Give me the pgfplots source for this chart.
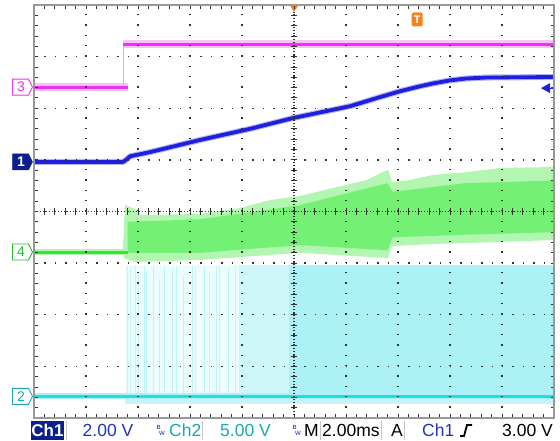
\documentclass[border=0pt]{standalone}
\usepackage{pgfplots}
\pgfplotsset{compat=1.18}
\usepackage{fontspec}
\setmainfont{Liberation Sans}
\definecolor{chA}{HTML}{1F1FE0}
\definecolor{chAl}{HTML}{B4B4F6}
\definecolor{chB}{HTML}{22DCE8}
\definecolor{chBl}{HTML}{ACF1F5}
\definecolor{chC}{HTML}{EE33EE}
\definecolor{chCl}{HTML}{F7A6F7}
\definecolor{chD}{HTML}{33E633}
\definecolor{chDl}{HTML}{B2F6B2}
\definecolor{chDm}{HTML}{74F074}
\definecolor{navy}{HTML}{0C1F8C}
\definecolor{sblue}{HTML}{2233BB}
\definecolor{tealc}{HTML}{1AA8B0}
\definecolor{trig}{HTML}{F5821F}
\newcommand\chmark[2]{%
  \draw[#2] ([xshift=-1.5pt]axis cs:-5,#1) -- ([xshift=-5.5pt,yshift=8pt]axis cs:-5,#1)
   -- ([xshift=-21.5pt,yshift=8pt]axis cs:-5,#1) -- ([xshift=-21.5pt,yshift=-8pt]axis cs:-5,#1)
   -- ([xshift=-5.5pt,yshift=-8pt]axis cs:-5,#1) -- cycle;}
\begin{document}
\begin{tikzpicture}
\path[use as bounding box] (0pt,0pt) rectangle (560pt,441pt);
\begin{axis}[
  at={(34pt,23pt)}, anchor=south west,
  scale only axis, width=520pt, height=413pt,
  xmin=-5, xmax=5, ymin=-4, ymax=4,
  xtick={-5,...,5}, ytick={-4,...,4},
  minor tick num=4,
  xticklabels={}, yticklabels={},
  tick align=inside, tick pos=both,
  major tick length=3.5pt, minor tick length=3.5pt,
  every tick/.append style={black!80, line width=0.9pt},
  every minor tick/.append style={black!80, line width=0.9pt},
  xmajorgrids, ymajorgrids,
  major x grid style={black!80, line width=1.3pt, dash pattern=on 1.3pt off 9.025pt},
  major y grid style={black!80, line width=1.3pt, dash pattern=on 1.3pt off 9.1pt},
  axis line style={gray!80, line width=2.5pt},
  axis on top,
  clip=false,
]
% ---- Ch2 (cyan) noise area
\addplot[draw=none, fill=chBl, fill opacity=0.22] coordinates {(-3.25,-3.58) (-3.25,-1.03) (-1.05,-1.03) (-1.05,-3.58)};
\addplot[draw=none, fill=chBl, fill opacity=0.6] coordinates {(-1.05,-3.58) (-1.05,-1.03) (-0.1,-1.03) (-0.1,-3.58)};
\addplot[draw=none, fill=chBl] coordinates {(-0.1,-3.58) (-0.1,-1.03) (5,-1.03) (5,-3.58)};
\addplot[draw=none, fill=chBl, fill opacity=0.7] coordinates {(-3.25,-3.58) (5,-3.58) (5,-3.72) (-3.25,-3.72)};
\addplot[chB!30, line width=0.7pt, unbounded coords=jump] coordinates {
 (-3.21,-3.58) (-3.21,-1.05) (-3.21,nan)
 (-3.15,-3.58) (-3.15,-1.10) (-3.15,nan)
 (-3.06,-3.58) (-3.06,-1.05) (-3.06,nan)
 (-3.00,-3.58) (-3.00,-1.20) (-3.00,nan)
 (-2.88,-3.58) (-2.88,-1.05) (-2.88,nan)
 (-2.83,-3.58) (-2.83,-1.15) (-2.83,nan)
 (-2.71,-3.58) (-2.71,-1.05) (-2.71,nan)
 (-2.58,-3.58) (-2.58,-1.30) (-2.58,nan)
 (-2.50,-3.58) (-2.50,-1.05) (-2.50,nan)
 (-2.33,-3.58) (-2.33,-1.10) (-2.33,nan)
 (-2.27,-3.58) (-2.27,-1.05) (-2.27,nan)
 (-2.12,-3.58) (-2.12,-1.25) (-2.12,nan)
 (-1.96,-3.58) (-1.96,-1.05) (-1.96,nan)
 (-1.90,-3.58) (-1.90,-1.10) (-1.90,nan)
 (-1.73,-3.58) (-1.73,-1.05) (-1.73,nan)
 (-1.62,-3.58) (-1.62,-1.15) (-1.62,nan)
 (-1.50,-3.58) (-1.50,-1.05) (-1.50,nan)
 (-1.44,-3.58) (-1.44,-1.05) (-1.44,nan)
 (-1.26,-3.58) (-1.26,-1.10) (-1.26,nan)
 (-1.13,-3.58) (-1.13,-1.05)
};
\addplot[chBl, line width=6pt] coordinates {(-5,-3.58) (5,-3.58)};
\addplot[chB, line width=3pt] coordinates {(-5,-3.58) (5,-3.58)};
% ---- Ch4 (green)
\addplot[draw=none, fill=chDl] coordinates {
 (-3.29,-0.70) (-3.25,0.126) (-3.154,0.087) (-3.02,0.029) (-2.96,-0.068) (-1.81,-0.048)
 (-1.04,0.068) (-0.46,0.223) (0.115,0.300) (0.75,0.455) (1.40,0.610) (1.71,0.765)
 (1.81,0.804) (1.885,0.571) (2.23,0.610) (2.67,0.707) (3.33,0.765) (3.96,0.843) (5,0.862)
 (5,-0.552) (3.96,-0.59) (2.67,-0.63) (1.885,-0.668) (1.80,-0.90) (0.115,-0.80)
 (-1.81,-0.939) (-3.06,-0.978) (-3.27,-0.90)};
\addplot[draw=none, fill=chDm] coordinates {
 (-3.2,-0.2) (-1.8,-0.15) (0.1,0.12) (1.8,0.55) (1.9,0.38) (3.3,0.55) (5,0.6)
 (5,-0.4) (3.3,-0.45) (1.9,-0.5) (1.8,-0.75) (0.1,-0.65) (-1.8,-0.8) (-3.2,-0.8)};
\addplot[chDl, line width=6pt] coordinates {(-5,-0.785) (-3.19,-0.785)};
\addplot[chD, line width=3pt] coordinates {(-5,-0.785) (-3.19,-0.785)};
% ---- Ch3 (magenta)
\addplot[chCl, line width=8pt, opacity=0.7] coordinates {(-5,2.41) (-3.19,2.41)};
\addplot[chCl, line width=8pt, opacity=0.7] coordinates {(-3.29,3.24) (5,3.24)};
\addplot[chCl, line width=1pt] coordinates {(-3.27,2.41) (-3.27,3.24)};
\addplot[chC, line width=3pt] coordinates {(-5,2.41) (-3.19,2.41)};
\addplot[chC, line width=3pt] coordinates {(-3.29,3.24) (5,3.24)};
% ---- Ch1 (blue)
\addplot[chAl, line width=6pt, line join=round] coordinates {
 (-5,0.96) (-3.29,0.96) (-3.23,1.0) (-3.15,1.07) (-2.77,1.15) (-1.81,1.385) (-0.85,1.60)
 (-0.02,1.81) (1.08,2.04) (1.6,2.20) (2.04,2.33) (2.4,2.42) (2.67,2.48) (3.0,2.54) (3.3,2.575) (3.7,2.595) (4.3,2.60) (5,2.605)};
\addplot[chA, line width=3.8pt, line join=round] coordinates {
 (-5,0.96) (-3.29,0.96) (-3.23,1.0) (-3.15,1.07) (-2.77,1.15) (-1.81,1.385) (-0.85,1.60)
 (-0.02,1.81) (1.08,2.04) (1.6,2.20) (2.04,2.33) (2.4,2.42) (2.67,2.48) (3.0,2.54) (3.3,2.575) (3.7,2.595) (4.3,2.60) (5,2.605)};
% ---- centre crosshair
\draw[black!80, line width=1.1pt, dash pattern=on 1.1pt off 1.9pt] (axis cs:-5,0) -- (axis cs:5,0);
\draw[black!80, line width=1.1pt, dash pattern=on 1.1pt off 1.9pt] (axis cs:0,-4) -- (axis cs:0,4);
\pgfplotsinvokeforeach{-4.8,-4.6,...,4.8}{\draw[black!80,line width=0.9pt] ([yshift=-3pt]axis cs:#1,0) -- ([yshift=3pt]axis cs:#1,0);}
\pgfplotsinvokeforeach{-3.8,-3.6,...,3.8}{\draw[black!80,line width=0.9pt] ([xshift=-3pt]axis cs:0,#1) -- ([xshift=3pt]axis cs:0,#1);}
% ---- channel markers
\chmark{2.41}{chC, line width=0.9pt, fill=white}
\node[text=chC, font=\fontsize{14}{14}\selectfont, inner sep=0pt] at ([xshift=-13pt]axis cs:-5,2.41) {3};
\chmark{0.96}{navy, fill=navy}
\node[text=white, font=\bfseries\fontsize{14}{14}\selectfont, inner sep=0pt] at ([xshift=-13pt]axis cs:-5,0.96) {1};
\chmark{-0.785}{chD!80!black, line width=0.9pt, fill=white}
\node[text=chD!80!black, font=\fontsize{14}{14}\selectfont, inner sep=0pt] at ([xshift=-13pt]axis cs:-5,-0.785) {4};
\chmark{-3.58}{tealc, line width=0.9pt, fill=white}
\node[text=tealc, font=\fontsize{14}{14}\selectfont, inner sep=0pt] at ([xshift=-13pt]axis cs:-5,-3.58) {2};
% trigger level arrow
\fill[chA] ([xshift=-13pt]axis cs:5,2.39) -- ([xshift=-4pt,yshift=5pt]axis cs:5,2.39) -- ([xshift=-4pt,yshift=-5pt]axis cs:5,2.39) -- cycle;
\draw[chA, line width=1.2pt] ([xshift=-6pt]axis cs:5,2.39) -- (axis cs:5,2.39);
% trigger position marker
\fill[trig] ([xshift=-4.5pt]axis cs:0,4) -- ([xshift=4.5pt]axis cs:0,4) -- ([yshift=-7pt]axis cs:0,4) -- cycle;
\node[fill=trig, rounded corners=2pt, minimum width=11pt, minimum height=14pt, inner sep=0pt, text=white, font=\bfseries\fontsize{11}{11}\selectfont] at (axis cs:2.37,3.72) {T};
\end{axis}
% ---- status bar
\begin{scope}[font=\fontsize{17.5}{20}\selectfont]
\fill[navy] (31pt,1pt) rectangle (64pt,20pt);
\node[anchor=base, text=white, inner sep=0pt, font=\bfseries\fontsize{17}{20}\selectfont] at (47.5pt,4pt) {Ch1};
\foreach \xx in {66,202,320,381,404} {\draw[gray!45, line width=0.8pt] (\xx pt,1pt) -- (\xx pt,20pt);}
\node[anchor=base west, text=sblue, inner sep=0pt] at (82.5pt,4pt) {2.00 V};
\node[anchor=base west, text=navy, inner sep=0pt, font=\fontsize{6}{6}\selectfont] at (156.5pt,11pt) {B};
\node[anchor=base west, text=navy, inner sep=0pt, font=\fontsize{6}{6}\selectfont] at (159pt,5pt) {W};
\node[anchor=base west, text=tealc, inner sep=0pt] at (169pt,4pt) {Ch2};
\node[anchor=base west, text=tealc, inner sep=0pt] at (220pt,4pt) {5.00 V};
\node[anchor=base west, text=navy, inner sep=0pt, font=\fontsize{6}{6}\selectfont] at (292.5pt,11pt) {B};
\node[anchor=base west, text=navy, inner sep=0pt, font=\fontsize{6}{6}\selectfont] at (295pt,5pt) {W};
\node[anchor=base west, text=black, inner sep=0pt] at (304pt,4pt) {M};
\node[anchor=base west, text=black, inner sep=0pt] at (322pt,4pt) {2.00ms};
\node[anchor=base west, text=black, inner sep=0pt] at (391pt,4pt) {A};
\node[anchor=base west, text=sblue, inner sep=0pt] at (422pt,4pt) {Ch1};
\draw[black, line width=1.8pt] (460pt,5pt) -- (464pt,5pt) -- (467pt,16pt) -- (472pt,16pt);
\node[anchor=base east, text=black, inner sep=0pt] at (553pt,4pt) {3.00 V};
\end{scope}
\end{tikzpicture}
\end{document}
